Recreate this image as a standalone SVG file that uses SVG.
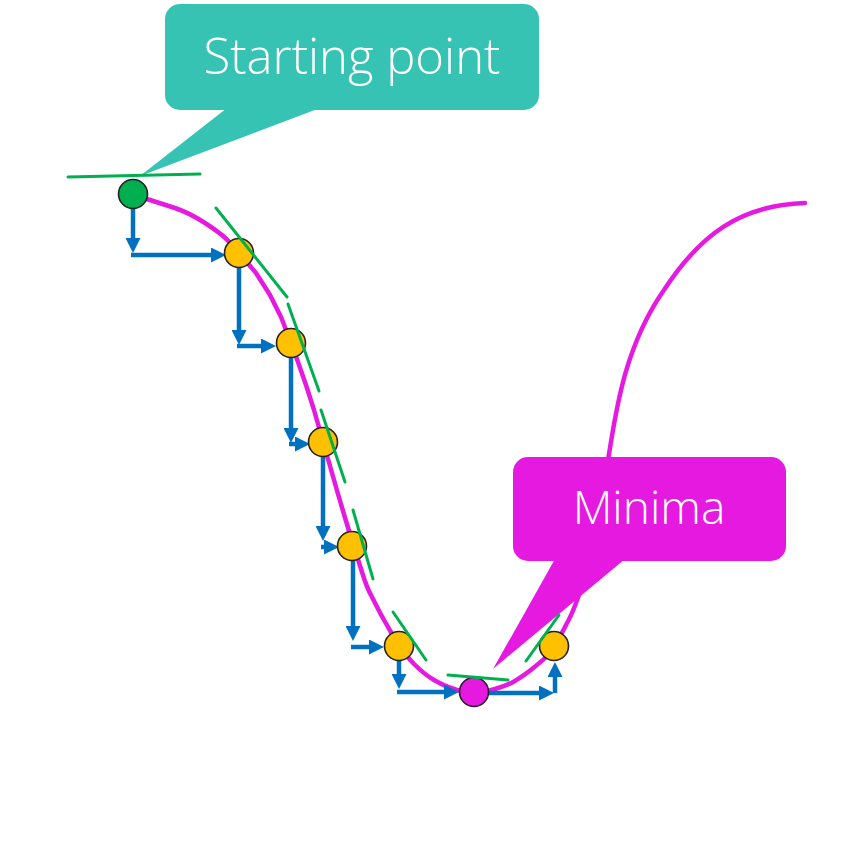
<svg xmlns="http://www.w3.org/2000/svg" width="862" height="857" viewBox="0 0 862 857">
<style>
.curve{fill:none;stroke:#E619E1;stroke-width:4.5;stroke-linejoin:round;stroke-linecap:round}
.tan{stroke:#00B050;stroke-width:3;stroke-linecap:round}
.arr{stroke:#0070C0;stroke-width:4.5;fill:none}
.pt{stroke:#222;stroke-width:1.6}
.lbl{font-family:"Open Sans","Noto Sans","Liberation Sans",sans-serif;font-weight:300;fill:#fff;text-anchor:middle}
</style>
<defs>
<marker id="ah" viewBox="0 0 15 15" refX="6" refY="7.5" markerWidth="15" markerHeight="15" markerUnits="userSpaceOnUse" orient="auto">
<path d="M0,0 L15,7.5 L0,15 z" fill="#0070C0"/>
</marker>
</defs>
<rect width="862" height="857" fill="#fff"/>
<g id="curve">
<path class="curve" d="M128,194 L150,200 L175,208 C190,213 205,222 222,235 C230,242 235,248 240,254 L256,273 L270,295 L281,317 L290,340 L298,362 L306,385 L314,410 L322,438 L330,466 L338,494 L346,521 L354,547 L362,572 C365,582 368,590 372,597 C376,605 380,613 384,620 C390,630 392,635 398,643 C403,651 408,658 414,664 C420,670 427,676 434,680 C441,684 447,687 454,689 C461,691 467,693 474,693 C481,693 488,691 495,689 C502,687 508,685 515,681 C521,677 526,674 532,669 C537,665 542,661 546,657 C550,652 553,648 556,643 C560,637 563,631 566,625 C570,618 573,611 576,603 C580,593 583,582 586,572 L594,540 L601,500 L608,460 C615,420 622,350 664,290 C700,235 740,205 805,203"/>
</g>
<g id="connectors">
<line class="arr" x1="133" y1="208" x2="133" y2="244" marker-end="url(#ah)"/>
<line class="arr" x1="131" y1="255" x2="217" y2="255" marker-end="url(#ah)"/>
<line class="arr" x1="239" y1="268" x2="239" y2="336" marker-end="url(#ah)"/>
<line class="arr" x1="237" y1="346" x2="267" y2="346" marker-end="url(#ah)"/>
<line class="arr" x1="291" y1="358" x2="291" y2="434" marker-end="url(#ah)"/>
<line class="arr" x1="289" y1="444" x2="301" y2="444" marker-end="url(#ah)"/>
<line class="arr" x1="323" y1="457" x2="323" y2="532" marker-end="url(#ah)"/>
<line class="arr" x1="321" y1="547" x2="330" y2="547" marker-end="url(#ah)"/>
<line class="arr" x1="353" y1="561" x2="353" y2="632" marker-end="url(#ah)"/>
<line class="arr" x1="351" y1="647" x2="375" y2="647" marker-end="url(#ah)"/>
<line class="arr" x1="399" y1="661" x2="399" y2="680" marker-end="url(#ah)"/>
<line class="arr" x1="397" y1="692" x2="450" y2="692" marker-end="url(#ah)"/>
<line class="arr" x1="488" y1="693" x2="545" y2="693" marker-end="url(#ah)"/>
<line class="arr" x1="555" y1="693" x2="555" y2="671" marker-end="url(#ah)"/>
</g>
<g id="start-point"><circle class="pt" cx="133" cy="194" r="14.5" fill="#00B050"/></g>
<g id="step1"><circle class="pt" cx="239" cy="253" r="14.5" fill="#FFC000"/></g>
<g id="step2"><circle class="pt" cx="291" cy="343" r="14.5" fill="#FFC000"/></g>
<g id="step3"><circle class="pt" cx="323" cy="442" r="14.5" fill="#FFC000"/></g>
<g id="step4"><circle class="pt" cx="352" cy="546" r="14.5" fill="#FFC000"/></g>
<g id="step5"><circle class="pt" cx="399" cy="646" r="14.5" fill="#FFC000"/></g>
<g id="minimum"><circle class="pt" cx="474" cy="692" r="14.5" fill="#E619E1"/></g>
<g id="step6"><circle class="pt" cx="554" cy="646" r="14.5" fill="#FFC000"/></g>
<g id="callout-start">
<path d="M227,108 L140,176 L320,108 z" fill="#37C3B4"/>
<rect x="165" y="4" width="374" height="106" rx="15" fill="#37C3B4"/>
<text class="lbl" x="352" y="74" font-size="49">Starting point</text>
</g>
<g id="callout-minima">
<path d="M555,559 L493,669 L625,559 z" fill="#E619E1"/>
<rect x="513" y="457" width="273" height="104" rx="15" fill="#E619E1"/>
<text class="lbl" x="649" y="524" font-size="46">Minima</text>
</g>
<g id="tangents">
<line class="tan" x1="68" y1="177" x2="200" y2="174"/>
<line class="tan" x1="216" y1="208" x2="287" y2="297"/>
<line class="tan" x1="288" y1="304" x2="319" y2="391"/>
<line class="tan" x1="321" y1="410" x2="345" y2="482"/>
<line class="tan" x1="353" y1="510" x2="373" y2="579"/>
<line class="tan" x1="393" y1="612" x2="426" y2="660"/>
<line class="tan" x1="448" y1="675" x2="508" y2="680"/>
<line class="tan" x1="526" y1="661" x2="559" y2="615"/>
</g>
</svg>
